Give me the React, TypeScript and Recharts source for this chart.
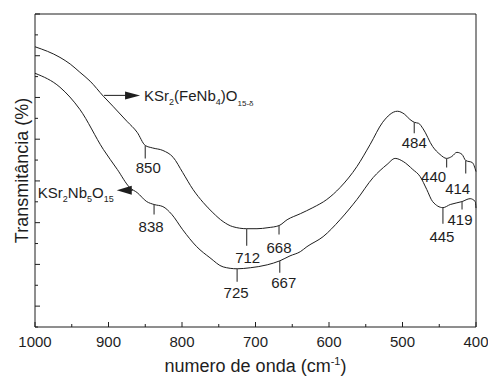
import React from "react";
import { LineChart, Line, XAxis, YAxis, ReferenceDot, Label } from "recharts";

const FONT = '"Liberation Sans", Arial, Helvetica, sans-serif';
const INK = "#1e1e1e";

// wavenumber ticks (cm-1), reversed axis
const xTicks = [1000, 950, 900, 850, 800, 750, 700, 650, 600, 550, 500, 450, 400];
// transmittance has no labelled scale, only tick marks
const yTicks = [0, 1, 2, 3, 4, 5, 6, 7, 8, 9, 10, 11, 12, 13, 14, 15];

// KSr2(FeNb4)O15-δ
const feWn = [1000, 966, 952, 939, 925, 907, 894, 875, 861, 850, 840, 826, 812, 799, 785, 771, 758, 744, 731, 712, 698, 683, 668, 657, 639, 622, 603, 585, 562, 544, 527, 507, 497, 490, 484, 478, 472, 459, 449, 440, 433, 426, 419, 414, 405, 400];
const feT = [13.43, 12.92, 12.6, 12.21, 11.78, 11.06, 10.58, 9.86, 9.33, 8.7, 8.58, 8.46, 8.13, 7.4, 6.59, 5.96, 5.48, 5.05, 4.81, 4.71, 4.71, 4.76, 4.86, 5.14, 5.43, 5.72, 6.11, 6.68, 7.69, 8.75, 9.81, 10.34, 10.19, 9.95, 9.81, 9.76, 9.5, 8.65, 8.27, 8.08, 8.17, 8.37, 8.27, 7.98, 7.88, 7.45];

// KSr2Nb5O15
const nbWn = [1000, 966, 939, 907, 888, 871, 861, 848, 838, 826, 814, 799, 780, 762, 744, 725, 707, 684, 667, 653, 639, 630, 608, 585, 562, 540, 521, 510, 499, 486, 476, 467, 459, 445, 435, 419, 408, 401, 400];
const nbT = [12.16, 11.49, 10.43, 8.51, 7.55, 6.68, 6.44, 6.01, 5.87, 5.77, 5.4, 4.66, 3.85, 3.32, 2.88, 2.79, 2.84, 2.98, 3.17, 3.41, 3.61, 3.85, 4.33, 5.14, 6.11, 7.16, 7.79, 8.08, 7.93, 7.55, 7.21, 6.59, 6.01, 5.72, 5.87, 6.01, 6.15, 6.01, 5.7];

const fePeaks = [850, 712, 668, 484, 440, 414];
const nbPeaks = [838, 725, 667, 445, 419];

// where the sample names are pinned on the curves
const feTag = { wn: 906, t: 11.1 };
const nbTag = { wn: 867, t: 6.55 };

// marker look: [tick length, label dx, label baseline dy]
const peakLook: Record<string, [number, number, number]> = {
  fe850: [13, 3, 28],
  fe712: [17, 1, 34],
  fe668: [9, 0, 27],
  fe484: [11, 0, 26],
  fe440: [9, -13, 24],
  fe414: [13, -8, 34],
  nb838: [10, -3, 27],
  nb725: [13, -1, 29],
  nb667: [12, 4, 27],
  nb445: [16, -1, 34],
  nb419: [8, -2, 23],
};

const feData = feWn.map((wn, i) => ({ wn, t: feT[i] }));
const nbData = nbWn.map((wn, i) => ({ wn, t: nbT[i] }));

const tickLen = (major: boolean) => (major ? 5 : 3);

const BottomTick = ({ x, y, payload }: any) => {
  const major = payload.value % 100 === 0;
  return (
    <g>
      <line x1={x} y1={y} x2={x} y2={y - tickLen(major)} stroke={INK} />
      {major && (
        <text x={x} y={y + 20} textAnchor="middle" fontSize={15} fontFamily={FONT} fill={INK}>
          {payload.value}
        </text>
      )}
    </g>
  );
};

const TopTick = ({ x, y, payload }: any) => {
  const major = payload.value % 100 === 0;
  return <line x1={x} y1={y} x2={x} y2={y + tickLen(major)} stroke={INK} />;
};

const LeftTick = ({ x, y, payload }: any) => {
  const major = payload.value % 2 === 1;
  return <line x1={x} y1={y} x2={x + tickLen(major)} y2={y} stroke={INK} />;
};

const RightTick = ({ x, y, payload }: any) => {
  const major = payload.value % 2 === 1;
  return <line x1={x} y1={y} x2={x - tickLen(major)} y2={y} stroke={INK} />;
};

const XTitle = ({ viewBox }: any) => {
  const cx = viewBox.x + viewBox.width / 2;
  return (
    <text x={cx} y={viewBox.y + 45} textAnchor="middle" fontSize={18} fontFamily={FONT} fill={INK}>
      numero de onda (cm
      <tspan fontSize={11} dy={-7}>-1</tspan>
      <tspan dy={7}>)</tspan>
    </text>
  );
};

const YTitle = ({ viewBox }: any) => {
  const x = viewBox.x + 20;
  const y = viewBox.y + viewBox.height / 2;
  return (
    <text
      x={x}
      y={y}
      transform={`rotate(-90, ${x}, ${y})`}
      textAnchor="middle"
      fontSize={18}
      fontFamily={FONT}
      fill={INK}
    >
      Transmitância (%)
    </text>
  );
};

const peakShape = (key: string, label: number) => (props: any) => {
  const { cx, cy } = props;
  const [len, dx, dy] = peakLook[key];
  return (
    <g>
      <line x1={cx} y1={cy} x2={cx} y2={cy + len} stroke="#444" strokeWidth={1.2} />
      <text x={cx + dx} y={cy + dy} textAnchor="middle" fontSize={15} fontFamily={FONT} fill={INK}>
        {label}
      </text>
    </g>
  );
};

// arrow pointing right, name to its right
const FeTagShape = (props: any) => {
  const { cx, cy } = props;
  return (
    <g>
      <line x1={cx} y1={cy} x2={cx + 22} y2={cy} stroke={INK} />
      <polygon points={`${cx + 21},${cy - 4} ${cx + 36},${cy} ${cx + 21},${cy + 4}`} fill={INK} />
      <text x={cx + 40} y={cy + 6} fontSize={15} fontFamily={FONT} fill={INK}>
        KSr
        <tspan fontSize={9} dy={4}>2</tspan>
        <tspan dy={-4}>(FeNb</tspan>
        <tspan fontSize={9} dy={4}>4</tspan>
        <tspan dy={-4}>)O</tspan>
        <tspan fontSize={8} dy={5}>15-δ</tspan>
      </text>
    </g>
  );
};

// arrow pointing left, name to its left
const NbTagShape = (props: any) => {
  const { cx, cy } = props;
  return (
    <g>
      <line x1={cx} y1={cy} x2={cx - 2} y2={cy} stroke={INK} />
      <polygon points={`${cx - 1},${cy - 4.5} ${cx - 16},${cy} ${cx - 1},${cy + 4.5}`} fill={INK} />
      <text x={cx - 19} y={cy + 8} textAnchor="end" fontSize={15} fontFamily={FONT} fill={INK}>
        KSr
        <tspan fontSize={9} dy={4}>2</tspan>
        <tspan dy={-4}>Nb</tspan>
        <tspan fontSize={9} dy={4}>5</tspan>
        <tspan dy={-4}>O</tspan>
        <tspan fontSize={9} dy={4}>15</tspan>
      </text>
    </g>
  );
};

const valueAt = (wns: number[], ts: number[], wn: number) => ts[wns.indexOf(wn)];

export default function App() {
  return (
    // body margin replaced by padding so the root spans the full 488x376 window
    <div style={{ width: 480, height: 368, padding: "8px 0 0 8px", background: "#fff" }}>
      <style>{`body { margin: 0; } .recharts-wrapper, .recharts-surface { overflow: visible !important; }`}</style>
      <LineChart width={480} height={368} margin={{ top: 0, right: 0, bottom: 0, left: 0 }}>
        <XAxis
          xAxisId={0}
          type="number"
          dataKey="wn"
          domain={[400, 1000]}
          reversed
          ticks={xTicks}
          interval={0}
          height={49}
          tickSize={0}
          tickMargin={0}
          tickLine={false}
          axisLine={{ stroke: INK }}
          tick={BottomTick}
          label={<Label content={XTitle} />}
        />
        <XAxis
          xAxisId="top"
          orientation="top"
          type="number"
          dataKey="wn"
          domain={[400, 1000]}
          reversed
          ticks={xTicks}
          interval={0}
          height={6}
          tickSize={0}
          tickMargin={0}
          tickLine={false}
          axisLine={{ stroke: INK }}
          tick={TopTick}
        />
        <YAxis
          yAxisId={0}
          type="number"
          domain={[0, 15]}
          ticks={yTicks}
          interval={0}
          width={27}
          tickSize={0}
          tickMargin={0}
          tickLine={false}
          axisLine={{ stroke: INK }}
          tick={LeftTick}
          label={<Label content={YTitle} />}
        />
        <YAxis
          yAxisId="right"
          orientation="right"
          type="number"
          domain={[0, 15]}
          ticks={yTicks}
          interval={0}
          width={12}
          tickSize={0}
          tickMargin={0}
          tickLine={false}
          axisLine={{ stroke: INK }}
          tick={RightTick}
        />

        <Line
          data={feData}
          dataKey="t"
          type="monotone"
          stroke={INK}
          strokeWidth={1}
          dot={false}
          activeDot={false}
          isAnimationActive={false}
        />
        <Line
          data={nbData}
          dataKey="t"
          type="monotone"
          stroke={INK}
          strokeWidth={1}
          dot={false}
          activeDot={false}
          isAnimationActive={false}
        />

        {fePeaks.map((wn) => (
          <ReferenceDot
            key={`fe${wn}`}
            x={wn}
            y={valueAt(feWn, feT, wn)}
            r={0}
            ifOverflow="visible"
            shape={peakShape(`fe${wn}`, wn)}
          />
        ))}
        {nbPeaks.map((wn) => (
          <ReferenceDot
            key={`nb${wn}`}
            x={wn}
            y={valueAt(nbWn, nbT, wn)}
            r={0}
            ifOverflow="visible"
            shape={peakShape(`nb${wn}`, wn)}
          />
        ))}
        <ReferenceDot x={feTag.wn} y={feTag.t} r={0} ifOverflow="visible" shape={FeTagShape} />
        <ReferenceDot x={nbTag.wn} y={nbTag.t} r={0} ifOverflow="visible" shape={NbTagShape} />
      </LineChart>
    </div>
  );
}
